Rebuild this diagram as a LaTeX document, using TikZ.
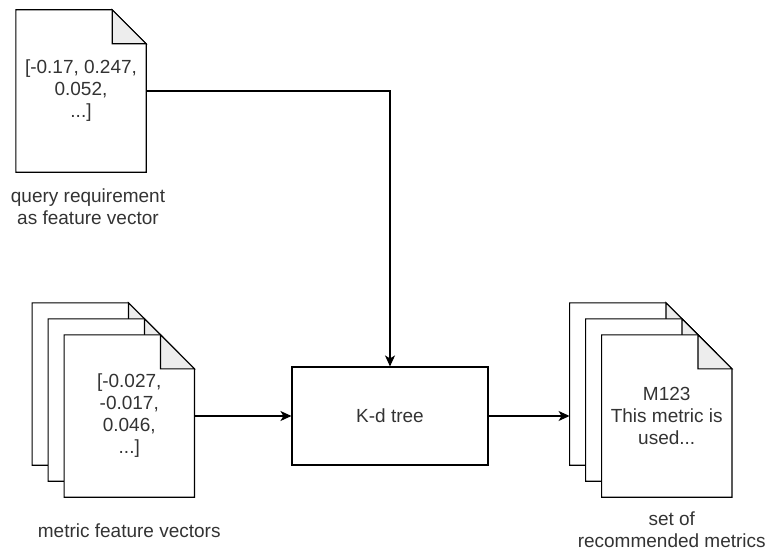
\documentclass[tikz,border=0pt]{standalone}
\usepackage{fontspec}
\setmainfont{Liberation Sans}
\usetikzlibrary{positioning}
\usetikzlibrary{arrows.meta}
\pgfdeclarelayer{background}
\pgfsetlayers{background,main}

\begin{document}
\begin{tikzpicture} [x=1pt, y=-1pt, >={Stealth[length=11pt, width=10pt, inset=3pt]}, font=\fontsize{19}{22}\selectfont]
            \useasboundingbox (0,0) rectangle (771,551);
            % Set primary nodes
            \tikzset{
                documentNode/.style={
                        minimum width=130pt,
                        minimum height=162pt,
                        inner sep=0pt,
                        align=center,
                        text=black!80
                    }
            }
            \tikzset{
                treeNode/.style={
                        draw,
                        rectangle,
                        line width=1.1pt,
                        minimum width=196pt,
                        minimum height=98pt,
                        text=black!80
                    }
            }
            \tikzset{
                captionNode/.style={
                        inner sep=0pt,
                        align=center,
                        text=black!80
                    }
            }
            \tikzset{
                docLine/.style={
                        line width=1.1pt,
                        line join=miter
                    }
            }
            % Configure arrows
            \tikzstyle{connector} = [line width=1.1pt, ->]
            % Placing nodes
            \node[treeNode] (kdTree) at (390,416) {K-d tree};
            \node[documentNode] (queryVector) at (81,91) {[-0.17, 0.247,\\0.052,\\...]};
            \node[documentNode, left = 97pt of kdTree] (metricFront) {[-0.027,\\-0.017,\\0.046,\\...]};
            \node[documentNode] (metricMiddle) at ([shift={(-16,-16)}]metricFront.center) {};
            \node[documentNode] (metricBack) at ([shift={(-32,-32)}]metricFront.center) {};
            \node[documentNode, right = 113pt of kdTree] (resultFront) {M123\\This metric is\\used...};
            \node[documentNode] (resultMiddle) at ([shift={(-16,-16)}]resultFront.center) {};
            \node[documentNode] (resultBack) at ([shift={(-32,-32)}]resultFront.center) {};
            \node[captionNode, below = 16pt of queryVector, xshift = 7pt] (queryLabel) {query requirement\\as feature vector};
            \node[captionNode, below = 26pt of metricFront] (metricLabel) {metric feature vectors};
            \node[captionNode, below = 14pt of resultFront, xshift = 5pt] (resultLabel) {set of\\recommended metrics};
            % Document outlines, back to front
            \begin{pgfonlayer}{background}
                \foreach \doc in {queryVector, metricBack, metricMiddle, metricFront, resultBack, resultMiddle, resultFront} {
                    \filldraw[docLine, fill=white] (\doc.north west) -- ([xshift=-34pt]\doc.north east) -- ([yshift=-34pt]\doc.north east) -- (\doc.south east) -- (\doc.south west) -- cycle;
                    \filldraw[docLine, fill=black!7] ([xshift=-34pt]\doc.north east) -- ([xshift=-34pt, yshift=-34pt]\doc.north east) -- ([yshift=-34pt]\doc.north east) -- cycle;
                }
            \end{pgfonlayer}
            % Draw arrows
            \draw[connector] (queryVector.east) -| (kdTree.north);
            \draw[connector] (metricFront.east) -- (kdTree.west);
            \draw[connector] (kdTree.east) -- (kdTree.east -| resultBack.west);

        \end{tikzpicture}
\end{document}
